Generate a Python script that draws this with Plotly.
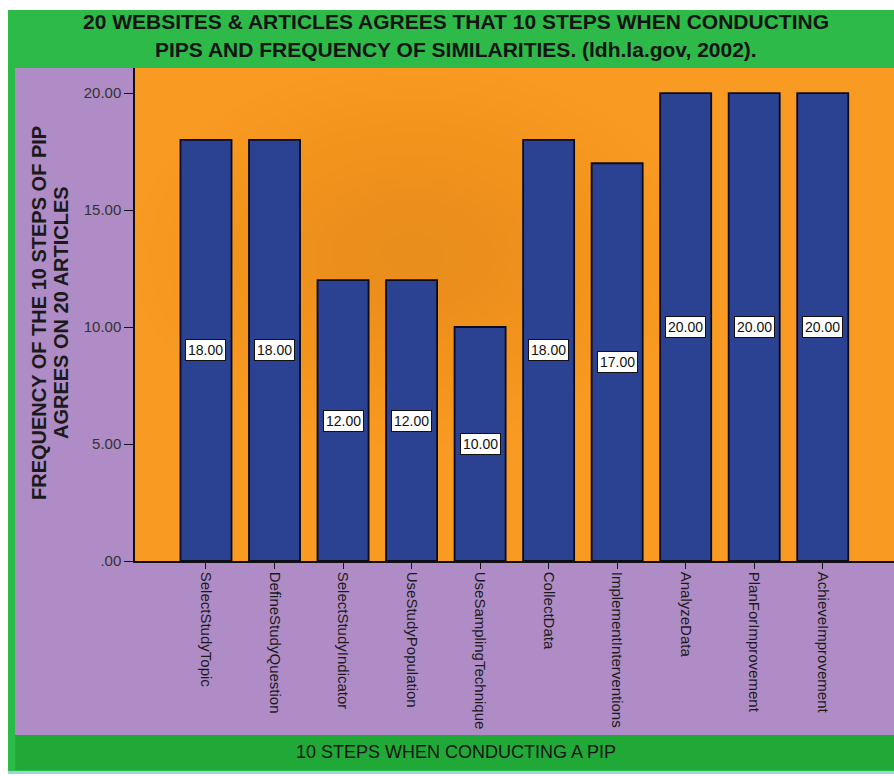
import plotly.graph_objects as go

categories = ["SelectStudyTopic", "DefineStudyQuestion", "SelectStudyIndicator",
              "UseStudyPopulation", "UseSamplingTechnique", "CollectData",
              "ImplementInterventions", "AnalyzeData", "PlanForImprovement",
              "AchieveImprovement"]
values = [18, 18, 12, 12, 10, 18, 17, 20, 20, 20]
ytick_vals = [0, 5, 10, 15, 20]
ytick_text = [".00", "5.00", "10.00", "15.00", "20.00"]

title_lines = ["20 WEBSITES &amp; ARTICLES AGREES THAT 10 STEPS WHEN CONDUCTING",
               "PIPS AND FREQUENCY OF SIMILARITIES. (ldh.la.gov, 2002)."]
ytitle_lines = ["FREQUENCY OF THE 10 STEPS OF PIP", "AGREES ON 20 ARTICLES"]
xtitle_text = "10 STEPS WHEN CONDUCTING A PIP"

W, H = 894, 776
L, R, T, B = 135, 894, 68, 561  # plot area pixel box


def px(x):
    return (x - L) / (R - L)


def py(y):
    return (B - y) / (B - T)


FONT = "Liberation Sans, Arial, sans-serif"

fig = go.Figure()
fig.add_trace(go.Bar(
    x=categories, y=values,
    marker=dict(color="#2B4191", line=dict(color="#0B0B1A", width=1.8)),
    hoverinfo="skip",
))

shapes = []


def rect(x0, y0, x1, y1, color):
    shapes.append(dict(type="rect", xref="paper", yref="paper",
                       x0=px(x0), x1=px(x1), y0=py(y1), y1=py(y0),
                       fillcolor=color, line=dict(width=0), layer="below"))


rect(8, 10, 894, 772, "#2EBA48")        # green frame
rect(15, 68, 894, 735, "#AF8CC5")       # purple panel
rect(15, 735, 894, 770, "#20A936")      # bottom green band
rect(8, 771, 894, 774, "#9CD3DF")       # thin light line
rect(L, T, R, B, "#F99B22")             # orange plot area
# soft darker centre in the orange area
cx, cy = 413, 255
n = 16
for i in range(n):
    f = 1 - i / n
    rx, ry = 265 * f + 15, 180 * f + 10
    shapes.append(dict(type="circle", xref="paper", yref="paper",
                       x0=px(cx - rx), x1=px(cx + rx), y0=py(cy + ry), y1=py(cy - ry),
                       fillcolor="#E88510", opacity=0.035, line=dict(width=0), layer="below"))

annotations = []
for c, v in zip(categories, values):
    annotations.append(dict(x=c, y=v / 2, xref="x", yref="y", text=f"{v:.2f}",
                            showarrow=False, bgcolor="white", bordercolor="#111",
                            borderwidth=1, borderpad=2,
                            font=dict(family=FONT, size=14, color="#111")))

for line, yc in zip(title_lines, [22, 49]):
    annotations.append(dict(x=px(456), y=py(yc), xref="paper", yref="paper",
                            text="<b>" + line + "</b>", showarrow=False,
                            font=dict(family=FONT, size=21, color="#141414"),
                            xanchor="center", yanchor="middle"))
for line, xc in zip(ytitle_lines, [39, 61]):
    annotations.append(dict(x=px(xc), y=py(313), xref="paper", yref="paper",
                            text="<b>" + line + "</b>", showarrow=False, textangle=-90,
                            font=dict(family=FONT, size=20, color="#1a1a1a"),
                            xanchor="center", yanchor="middle"))
annotations.append(dict(x=px(456), y=py(752), xref="paper", yref="paper",
                        text=xtitle_text, showarrow=False,
                        font=dict(family=FONT, size=18, color="#151515"),
                        xanchor="center", yanchor="middle"))

fig.update_layout(
    width=W, height=H,
    margin=dict(l=L, r=W - R, t=T, b=H - B, pad=0),
    paper_bgcolor="white",
    plot_bgcolor="rgba(0,0,0,0)",
    bargap=0.255,
    showlegend=False,
    shapes=shapes,
    annotations=annotations,
    xaxis=dict(range=[-1.036, 10.04], showgrid=False, zeroline=False,
               showline=True, linecolor="#111", linewidth=1.5,
               ticks="outside", ticklen=6, tickcolor="#111", tickwidth=1.2,
               tickangle=90, tickfont=dict(family=FONT, size=15, color="#1a1a1a")),
    yaxis=dict(range=[0, 21.07], showgrid=False, zeroline=False,
               showline=True, linecolor="#111", linewidth=1.5,
               tickvals=ytick_vals, ticktext=ytick_text,
               ticks="outside", ticklen=9, tickcolor="#111", tickwidth=1.2,
               tickfont=dict(family=FONT, size=15, color="#333")),
)

fig.write_html("out.html")
